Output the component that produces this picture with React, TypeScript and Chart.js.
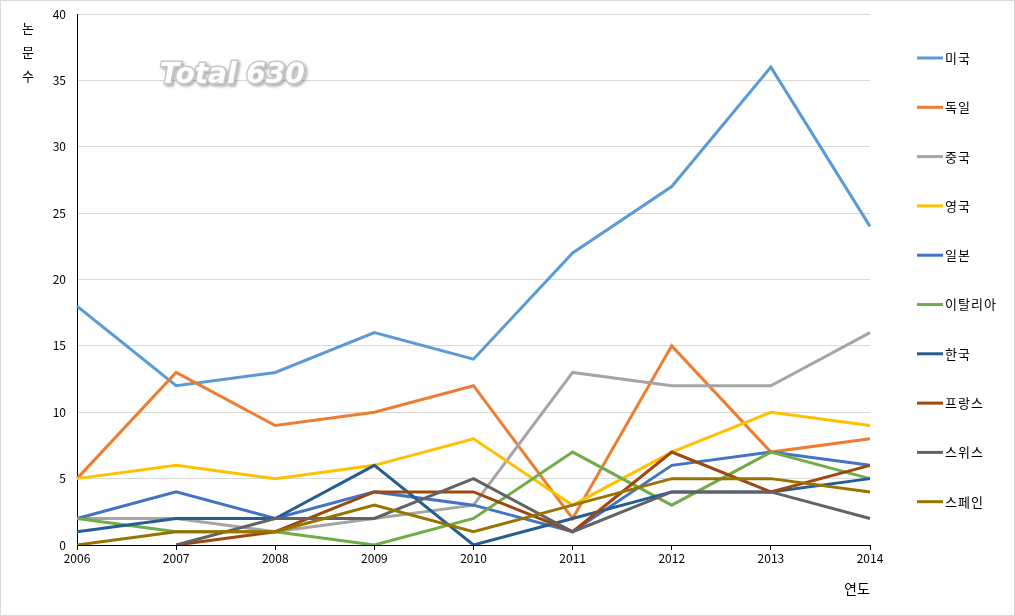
import React, { useEffect, useRef } from "react";
import { Chart, registerables } from "chart.js";

Chart.register(...registerables);

const years = ["2006", "2007", "2008", "2009", "2010", "2011", "2012", "2013", "2014"];
const countries = ["미국", "독일", "중국", "영국", "일본", "이탈리아", "한국", "프랑스", "스위스", "스페인"];
const usa = [18, 12, 13, 16, 14, 22, 27, 36, 24];
const germany = [5, 13, 9, 10, 12, 2, 15, 7, 8];
const china = [2, 2, 1, 2, 3, 13, 12, 12, 16];
const uk = [5, 6, 5, 6, 8, 3, 7, 10, 9];
const japan = [2, 4, 2, 4, 3, 1, 6, 7, 6];
const italy = [2, 1, 1, 0, 2, 7, 3, 7, 5];
const korea = [1, 2, 2, 6, 0, 2, 4, 4, 5];
const france = [null, 0, 1, 4, 4, 1, 7, 4, 6];
const swiss = [null, 0, 2, 2, 5, 1, 4, 4, 2];
const spain = [0, 1, 1, 3, 1, 3, 5, 5, 4];
const seriesValues = [usa, germany, china, uk, japan, italy, korea, france, swiss, spain];
const colors = ["#5B9BD5", "#ED7D31", "#A5A5A5", "#FFC000", "#4472C4", "#70AD47", "#255E91", "#9E480E", "#636363", "#997300"];
const yTitle = "논문수";
const xTitle = "연도";
const totalLabel = "Total 630";

const FONT = '"Noto Sans CJK KR", "Noto Sans", sans-serif';

const decorPlugin = {
  id: "decor",
  beforeDraw(chart: any) {
    const ctx = chart.ctx;
    ctx.save();
    ctx.fillStyle = "#ffffff";
    ctx.fillRect(0, 0, chart.width, chart.height);
    ctx.strokeStyle = "#d9d9d9";
    ctx.lineWidth = 1;
    ctx.strokeRect(0.5, 0.5, chart.width - 1, chart.height - 1);
    ctx.restore();
  },
  afterDraw(chart: any) {
    const ctx = chart.ctx;
    const area = chart.chartArea;
    ctx.save();
    // y title stacked
    ctx.fillStyle = "#000";
    ctx.font = `13px ${FONT}`;
    ctx.textAlign = "center";
    ctx.textBaseline = "middle";
    const chars = Array.from(yTitle);
    chars.forEach((c, i) => ctx.fillText(c, 28, 28 + i * 24));
    // x title
    ctx.font = `14px ${FONT}`;
    ctx.fillText(xTitle, area.right - 13, 589);
    // legend
    ctx.font = `13px ${FONT}`;
    ctx.textAlign = "left";
    (ctx as any).letterSpacing = "1px";
    const x0 = 917;
    countries.forEach((name, i) => {
      const y = 58 + i * 49.3;
      ctx.strokeStyle = colors[i];
      ctx.lineWidth = 3;
      ctx.beginPath();
      ctx.moveTo(x0, y);
      ctx.lineTo(x0 + 26, y);
      ctx.stroke();
      ctx.fillStyle = "#000";
      ctx.fillText(name, x0 + 28, y);
    });
    (ctx as any).letterSpacing = "0px";
    // Total label
    ctx.font = `italic bold 28px "DejaVu Sans", sans-serif`;
    ctx.textAlign = "left";
    ctx.textBaseline = "alphabetic";
    ctx.shadowColor = "rgba(0,0,0,0.35)";
    ctx.shadowOffsetX = 2;
    ctx.shadowOffsetY = 2;
    ctx.shadowBlur = 3;
    ctx.lineWidth = 3;
    ctx.strokeStyle = "#c8c8c8";
    ctx.strokeText(totalLabel, 160, 83);
    ctx.shadowColor = "transparent";
    ctx.fillStyle = "#ffffff";
    ctx.fillText(totalLabel, 160, 83);
    ctx.restore();
  },
};

export default function App() {
  const ref = useRef<HTMLCanvasElement | null>(null);
  useEffect(() => {
    document.body.style.margin = "0";
    const canvas = ref.current!;
    const chart = new Chart(canvas, {
      type: "line",
      data: {
        labels: years,
        datasets: countries.map((name, i) => ({
          label: name,
          data: seriesValues[i] as any,
          borderColor: colors[i],
          backgroundColor: colors[i],
          borderWidth: 3,
          pointRadius: 0,
          tension: 0,
          spanGaps: false,
          order: countries.length - i,
        })),
      },
      options: {
        responsive: false,
        animation: false,
        layout: { padding: { top: 14, right: 145, left: 0, bottom: 0 } },
        plugins: { legend: { display: false }, tooltip: { enabled: false } },
        scales: {
          x: {
            type: "category",
            offset: false,
            grid: { display: true, drawOnChartArea: false, drawTicks: true, tickLength: 5, color: "#000" },
            border: { color: "#000", width: 1 },
            ticks: { color: "#000", font: { family: FONT, size: 12 }, padding: 1, maxRotation: 0, autoSkip: false },
            afterFit: (s: any) => { s.height = 71; s.paddingLeft = 0; s.paddingRight = 0; },
          },
          y: {
            min: 0,
            max: 40,
            ticks: { stepSize: 5, color: "#000", font: { family: FONT, size: 12 }, padding: 11 },
            grid: { color: "#d9d9d9", drawTicks: false },
            border: { color: "#000", width: 1 },
            afterFit: (s: any) => { s.width = 77; s.paddingTop = 0; s.paddingBottom = 0; },
          },
        },
      },
      plugins: [decorPlugin],
    });
    return () => chart.destroy();
  }, []);
  return <canvas ref={ref} width={1015} height={616} style={{ display: "block" }} />;
}
